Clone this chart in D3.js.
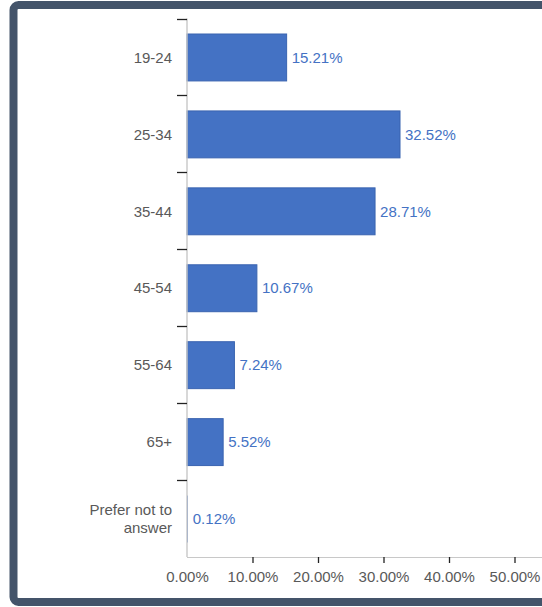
<!DOCTYPE html>
<html>
<head>
<meta charset="utf-8">
<script src="https://cdn.jsdelivr.net/npm/d3@7"></script>
<style>
  html, body { margin: 0; padding: 0; background: #fff; }
  svg { display: block; }
  text { font-family: "Liberation Sans", Arial, sans-serif; }
</style>
</head>
<body>
<svg id="chart" width="542" height="607"></svg>
<script>
const categories = ["19-24", "25-34", "35-44", "45-54", "55-64", "65+", "Prefer not to answer"];
const values = [15.21, 32.52, 28.71, 10.67, 7.24, 5.52, 0.12];
const xTicks = [0, 10, 20, 30, 40, 50];

(function () {
const svg = d3.select("#chart");
const W = 542, H = 607;

// frame
svg.append("rect")
  .attr("x", 13.5).attr("y", 5)
  .attr("width", 600).attr("height", 597)
  .attr("rx", 5).attr("ry", 5)
  .attr("fill", "#fff")
  .attr("stroke", "#44546a")
  .attr("stroke-width", 8);

const mLeft = 187, mRight = 514.5, mTop = 18.5, mBottom = 557;

const x = d3.scaleLinear().domain([0, 50]).range([mLeft, mRight]);
const y = d3.scaleBand().domain(categories).range([mTop, mBottom]).paddingInner(0.39).paddingOuter(0.195);
const yOuter = d3.scaleBand().domain(categories).range([mTop, mBottom]);

// bars
svg.append("g").selectAll("rect").data(categories).join("rect")
  .attr("x", mLeft)
  .attr("y", c => y(c) + 0.5)
  .attr("width", (c, i) => Math.max(0, x(values[i]) - mLeft))
  .attr("height", y.bandwidth())
  .attr("fill", "#4472c4")
  .attr("stroke", (c, i) => (x(values[i]) - mLeft) > 2 ? "#3a64b0" : "none")
  .attr("stroke-width", 1);

// y axis line
svg.append("line")
  .attr("x1", mLeft).attr("x2", mLeft)
  .attr("y1", mTop).attr("y2", mBottom)
  .attr("stroke", "#c8c8c8").attr("stroke-width", 1.4);

// y ticks at band boundaries
const boundaries = categories.map(c => yOuter(c));
svg.append("g").selectAll("line").data(boundaries).join("line")
  .attr("x1", mLeft - 10).attr("x2", mLeft)
  .attr("y1", d => Math.round(d) + 0.5).attr("y2", d => Math.round(d) + 0.5)
  .attr("stroke", "#222").attr("stroke-width", 1.3);

// x axis
const xAxis = svg.append("g").attr("transform", `translate(0,${mBottom})`)
  .call(d3.axisBottom(x).tickValues(xTicks).tickFormat(d => d.toFixed(2) + "%").tickSize(6).tickPadding(8));
xAxis.select(".domain").attr("stroke", "#c8c8c8").attr("stroke-width", 1.2).attr("d", `M${mLeft},0.5H${W}`);
xAxis.selectAll(".tick line").attr("stroke", "#222").attr("stroke-width", 1.3);
xAxis.selectAll(".tick text").attr("fill", "#595959").style("font-size", "15px")
  .style("font-family", "'Liberation Sans', Arial, sans-serif");
xAxis.selectAll(".tick").filter(d => d === 0).select("line").remove();

// value labels
svg.append("g").selectAll("text").data(categories).join("text")
  .attr("x", (c, i) => x(values[i]) + 5)
  .attr("y", c => yOuter(c) + yOuter.bandwidth() / 2)
  .attr("dy", "0.38em")
  .attr("fill", "#4472c4")
  .style("font-size", "15px")
  .text((c, i) => values[i].toFixed(2) + "%");

// category labels
const catG = svg.append("g");
categories.forEach(c => {
  const cy = yOuter(c) + yOuter.bandwidth() / 2;
  const t = catG.append("text")
    .attr("x", 172)
    .attr("text-anchor", "end")
    .attr("fill", "#595959")
    .style("font-size", "15px");
  if (c === "Prefer not to answer") {
    t.append("tspan").attr("x", 172).attr("y", cy - 9).attr("dy", "0.38em").text("Prefer not to");
    t.append("tspan").attr("x", 172).attr("y", cy + 9).attr("dy", "0.38em").text("answer");
  } else {
    t.attr("y", cy).attr("dy", "0.38em").text(c);
  }
});
})();
</script>
</body>
</html>
